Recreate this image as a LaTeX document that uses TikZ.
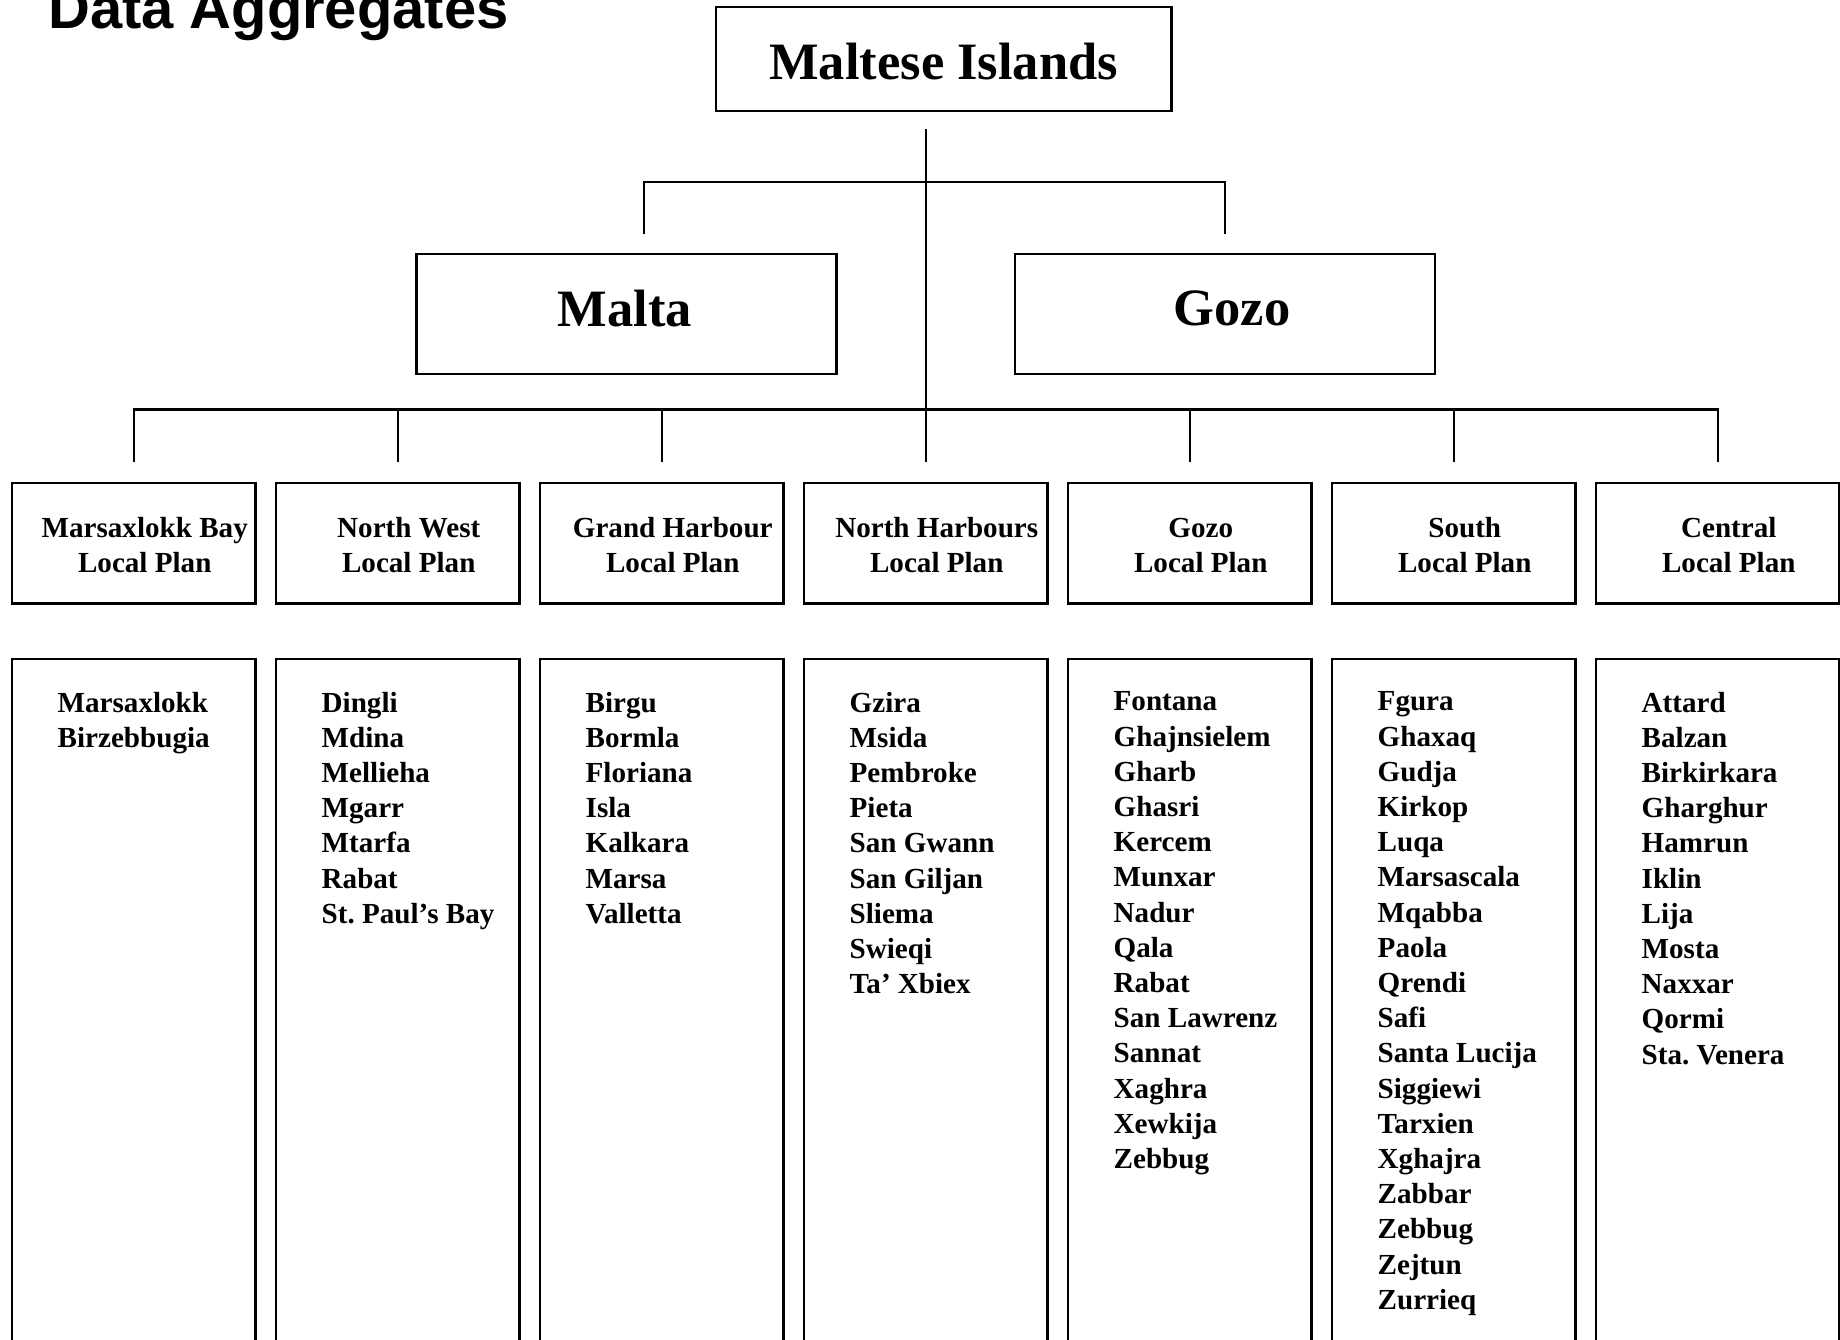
\documentclass[tikz,border=0pt]{standalone}
\usepackage{fontspec}
\setmainfont{Liberation Serif}
\newfontfamily\headfont{Liberation Sans}
\frenchspacing
\tikzset{
    block/.style = {draw, rectangle, line width=1.2pt, inner sep=0pt},
    topblock/.style = {block, minimum width=227.7pt, minimum height=52pt, text height=21.2pt,
        font=\bfseries\fontsize{26.25}{30}\selectfont},
    areablock/.style = {block, minimum width=210pt, minimum height=60pt, text depth=6pt,
        font=\bfseries\fontsize{26.25}{30}\selectfont},
    planblock/.style = {block, minimum width=121.75pt, minimum height=60.3pt},
    listblock/.style = {block, minimum width=121.75pt, minimum height=350.65pt},
    plantext/.style = {align=center, inner sep=0pt,
        font=\bfseries\fontsize{14.55}{17.6}\selectfont},
    listtext/.style = {align=left, anchor=north west, inner sep=0pt,
        font=\bfseries\fontsize{14.55}{17.6}\selectfont},
    conn/.style = {draw, line width=1.2pt}
}
\begin{document}
\begin{tikzpicture}[x=0.5pt,y=-0.5pt]
    \useasboundingbox (0,0) rectangle (1840,1339);
    \node[anchor=base west, inner sep=0pt, font=\headfont\bfseries\fontsize{28.95}{34}\selectfont] (title) at (48,28) {Data Aggregates};
    \node[topblock] (islands) at (943.7,58.7) {Maltese Islands};
    \node[areablock] (malta) at (626.6,314) {Malta\kern1.8pt};
    \node[areablock] (gozo) at (1225.1,314) {\kern7pt Gozo};
    % local plans
    \foreach \nm [count=\i] in {Marsaxlokk Bay,North West,Grand Harbour,North Harbours,Gozo,South,Central}{
        \node[planblock] (lp\i) at (133.75+264*\i-264,543) {};
        \node[plantext,xshift=5.5pt,yshift=-1.15pt] (lpt\i) at (lp\i) {\nm\\Local Plan};
    }
    % localities
    \foreach \items [count=\i] in {
        {Marsaxlokk\\Birzebbugia},
        {Dingli\\Mdina\\Mellieha\\Mgarr\\Mtarfa\\Rabat\\St. Paul’s Bay},
        {Birgu\\Bormla\\Floriana\\Isla\\Kalkara\\Marsa\\Valletta},
        {Gzira\\Msida\\Pembroke\\Pieta\\San Gwann\\San Giljan\\Sliema\\Swieqi\\Ta’ Xbiex},
        {Fontana\\Ghajnsielem\\Gharb\\Ghasri\\Kercem\\Munxar\\Nadur\\Qala\\Rabat\\San Lawrenz\\Sannat\\Xaghra\\Xewkija\\Zebbug},
        {Fgura\\Ghaxaq\\Gudja\\Kirkop\\Luqa\\Marsascala\\Mqabba\\Paola\\Qrendi\\Safi\\Santa Lucija\\Siggiewi\\Tarxien\\Xghajra\\Zabbar\\Zebbug\\Zejtun\\Zurrieq},
        {Attard\\Balzan\\Birkirkara\\Gharghur\\Hamrun\\Iklin\\Lija\\Mosta\\Naxxar\\Qormi\\Sta. Venera}}{
        \node[listblock] (ls\i) at (133.75+264*\i-264,1009.35) {};
        \node[listtext] (lst\i) at ([xshift=23.25pt,yshift=-17pt]ls\i.north west) {\items};
    }
    % connectors
    \coordinate (trunktop) at (925.75,129.3);
    \coordinate (maltadrop) at (644,234.3);
    \coordinate (gozodrop) at (1225,234.3);
    \draw[conn] (trunktop) -- ([yshift=9.75pt]lp4.north);
    \draw[conn] (maltadrop) -- ++(0,-52.5) -| (gozodrop);
    \draw[conn] ([yshift=9.75pt]lp1.north) -- ++(0,-52.5) -| ([yshift=9.75pt]lp7.north);
    \foreach \i in {2,3,5,6}
        \draw[conn] ([yshift=9.75pt]lp\i.north) -- ++(0,-52.5);
\end{tikzpicture}
\end{document}
